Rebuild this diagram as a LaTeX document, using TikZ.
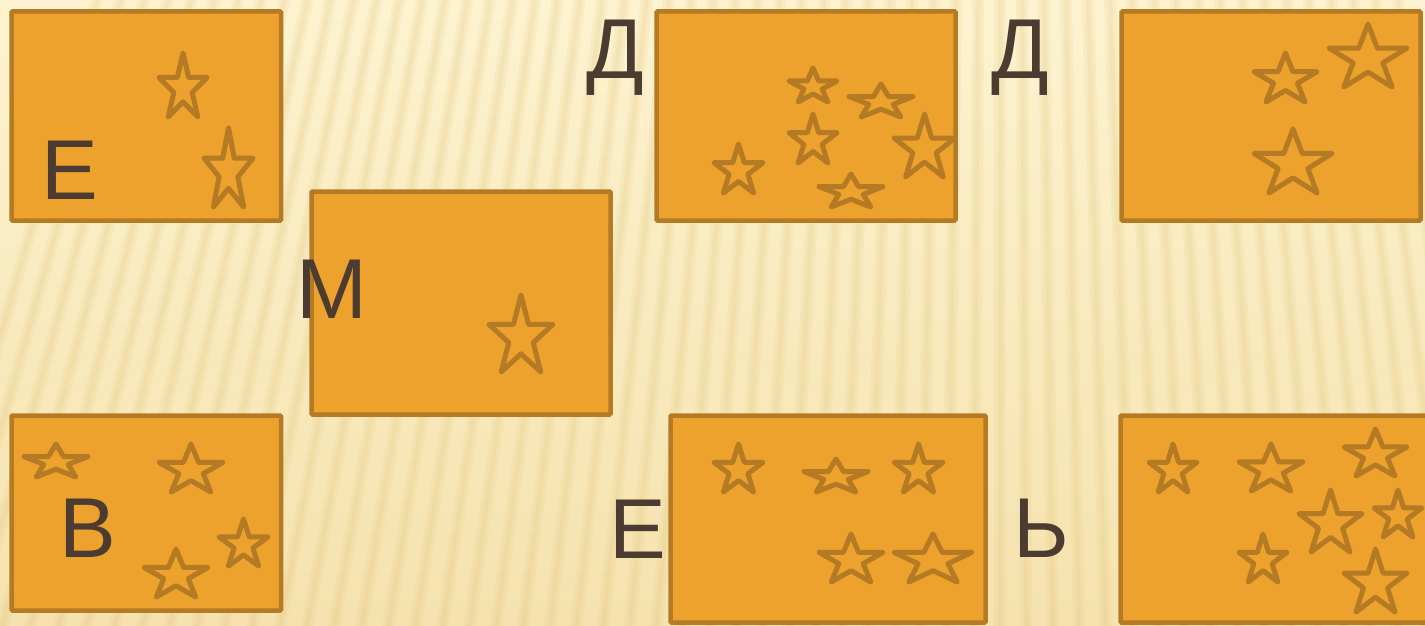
\documentclass[tikz,border=0pt]{standalone}
\usepackage{fontspec}
\setmainfont{Liberation Sans}
\usepackage{tikz}
\usetikzlibrary{calc}
\definecolor{paperlight}{HTML}{FDF3D0}
\definecolor{paperdeep}{HTML}{F5E2AE}
\definecolor{stripetone}{HTML}{E2C47C}
\definecolor{cardfill}{HTML}{EEA22E}
\definecolor{cardedge}{HTML}{B47A24}
\definecolor{letterbrown}{HTML}{4B3B30}

% outline star from its box: x-left, x-right, y-top, y-feet
\newcommand{\outlinestar}[4]{%
  \draw[starline] ({(#1+#2)/2},{#3})
    \foreach \a in {126,198,270,342} {
      -- ({(#1+#2)/2+0.382*(#2-#1)/1.902*cos(\a)},{#3+(#4-#3)/1.809*(1-0.382*sin(\a))})
      -- ({(#1+#2)/2+(#2-#1)/1.902*cos(\a+36)},{#3+(#4-#3)/1.809*(1-sin(\a+36))})
    }
    -- ({(#1+#2)/2+0.382*(#2-#1)/1.902*cos(414)},{#3+(#4-#3)/1.809*(1-0.382*sin(414))})
    -- cycle;}

\begin{document}
\begin{tikzpicture}[
  x=1pt, y=-1pt,
  cardbox/.style={
    draw=cardedge,
    fill=cardfill,
    line width=4.5pt,
    rounded corners=1pt,
    inner sep=0pt
  },
  letter/.style={
    font=\fontsize{85}{100}\selectfont,
    text=letterbrown,
    inner sep=0pt,
    anchor=base
  },
  starline/.style={draw=cardedge, line width=5pt, line join=round},
  stripe/.style={draw=stripetone, line width=12pt, opacity=0.14},
  stripecore/.style={draw=stripetone, line width=5pt, opacity=0.16}
]

  \useasboundingbox (0,0) rectangle (1425,626);
  \clip (0,0) rectangle (1425,626);

  % Striped paper background
  \shade[top color=paperlight, bottom color=paperdeep] (0,0) rectangle (1425,626);
  \coordinate (vp) at (1000,-3150);
  \foreach \i in {-18,...,40} {
    \draw[stripe] (vp) -- ++(90+\i*0.4:4000);
    \draw[stripecore] (vp) -- ++(90+\i*0.4:4000);
  }

  % ROW 1
  \node[cardbox, minimum width=269.5pt, minimum height=209pt] (c1) at (146.25,116) {};
  \node[cardbox, minimum width=299pt, minimum height=209pt] (c2) at (806,116) {};
  \node[cardbox, minimum width=299pt, minimum height=209pt] (c3) at (1271,116) {};

  % ROW 2
  \node[cardbox, minimum width=299pt, minimum height=223pt] (c4) at (461,303) {};

  % ROW 3
  \node[cardbox, minimum width=269.5pt, minimum height=195pt] (c5) at (146.25,513) {};
  \node[cardbox, minimum width=315pt, minimum height=207pt] (c6) at (828,519) {};
  \node[cardbox, minimum width=315pt, minimum height=207pt] (c7) at (1278,519) {};

  % Stars in each card
  \outlinestar{159}{207}{53}{117}
  \outlinestar{204}{253}{128}{207}

  \outlinestar{789}{837}{68}{102}
  \outlinestar{849}{913}{84}{117}
  \outlinestar{789}{837}{114}{163}
  \outlinestar{894}{955}{114}{177}
  \outlinestar{714}{763}{144}{193}
  \outlinestar{819}{883}{174}{207}

  \outlinestar{1254}{1317}{53}{102}
  \outlinestar{1329}{1407}{24}{87}
  \outlinestar{1254}{1332}{129}{193}

  \outlinestar{489}{553}{295}{372}

  \outlinestar{24}{88}{444}{477}
  \outlinestar{159}{223}{444}{492}
  \outlinestar{219}{268}{519}{566}
  \outlinestar{144}{208}{549}{597}

  \outlinestar{714}{763}{444}{492}
  \outlinestar{804}{868}{459}{492}
  \outlinestar{894}{943}{444}{492}
  \outlinestar{819}{883}{534}{582}
  \outlinestar{894}{972}{534}{582}

  \outlinestar{1149}{1197}{444}{492}
  \outlinestar{1239}{1303}{444}{491}
  \outlinestar{1344}{1407}{429}{476}
  \outlinestar{1299}{1362}{490}{552}
  \outlinestar{1374}{1422}{490}{537}
  \outlinestar{1239}{1287}{534}{582}
  \outlinestar{1344}{1407}{549}{612}

  % Letters
  \node[letter] (l1) at (70,199) {Е};
  \node[letter] (l2) at (615,78) {Д};
  \node[letter] (l3) at (1020,78) {Д};
  \node[letter] (l4) at (332,318) {М};
  \node[letter] (l5) at (88,557) {В};
  \node[letter] (l6) at (638,558) {Е};
  \node[letter] (l7) at (1041,557) {Ь};

\end{tikzpicture}
\end{document}
